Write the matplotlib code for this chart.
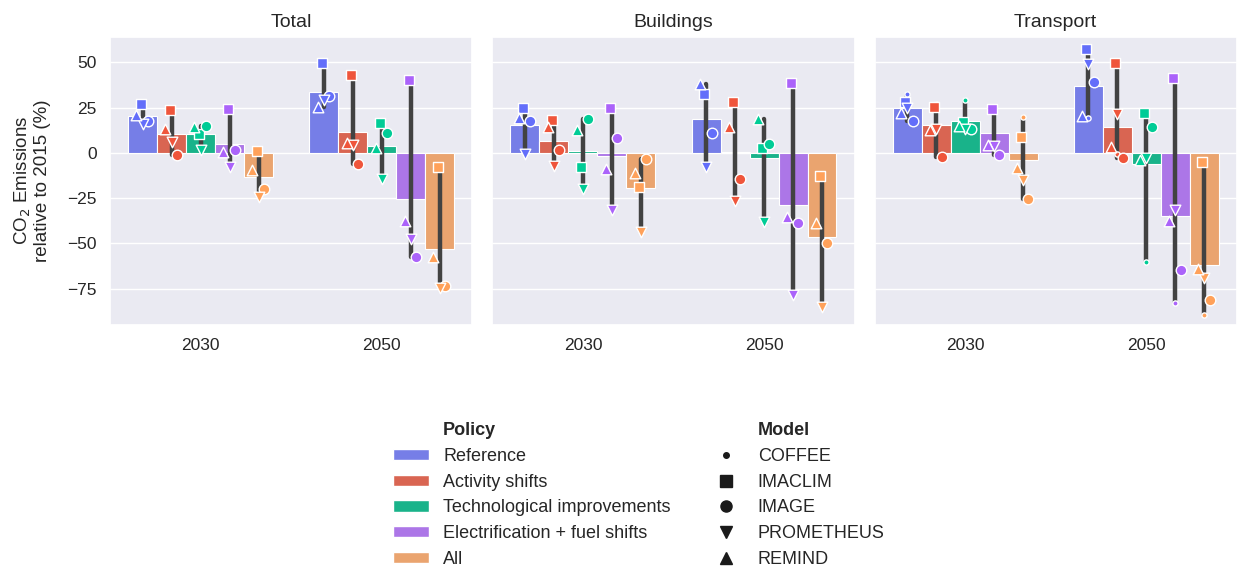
import numpy as np
import pandas as pd
import matplotlib
matplotlib.use('Agg')
import matplotlib.pyplot as plt
from matplotlib.patches import Patch
from matplotlib.lines import Line2D
import seaborn as sns

sns.set_theme(style='darkgrid')
plt.rcParams['font.family'] = ['Liberation Sans', 'DejaVu Sans']

# categories
sectors = ['Total', 'Buildings', 'Transport']
years = ['2030', '2050']
policies = ['Reference', 'Activity shifts', 'Technological improvements',
            'Electrification + fuel shifts', 'All']
models = ['COFFEE', 'IMACLIM', 'IMAGE', 'PROMETHEUS', 'REMIND']
policy_colors = ['#636EFA', '#EF553B', '#00CC96', '#AB63FA', '#FFA15A']
model_markers = ['o', 's', 'o', 'v', '^']

nan = np.nan
# rows = policy, cols = model (COFFEE, IMACLIM, IMAGE, PROMETHEUS, REMIND)
total_2030 = [[nan, 27.2, 17.5, 15.8, 20.8],
              [nan, 23.5, -1.3, 6.0, 12.9],
              [nan, 10.3, 14.7, 1.5, 14.0],
              [nan, 24.4, 1.5, -7.7, 0.5],
              [nan, 1.1, -19.7, -24.3, -9.6]]
total_2050 = [[nan, 49.6, 31.3, 29.0, 25.4],
              [nan, 43.2, -6.3, 4.6, 5.5],
              [nan, 16.5, 11.2, -14.7, 2.4],
              [nan, 40.4, -57.7, -47.6, -37.7],
              [nan, -7.7, -73.3, -74.8, -57.4]]
buildings_2030 = [[nan, 24.8, 17.6, -0.9, 19.5],
                  [nan, 18.4, 1.5, -7.4, 14.0],
                  [nan, -7.7, 18.6, -19.7, 12.5],
                  [nan, 24.8, 8.3, -31.6, -9.0],
                  [nan, -18.8, -3.5, -43.9, -11.4]]
buildings_2050 = [[nan, 32.4, 11.0, -7.7, 38.2],
                  [nan, 27.8, -14.2, -26.7, 14.0],
                  [nan, 2.8, 4.8, -38.0, 18.6],
                  [nan, 38.8, -39.0, -78.5, -35.7],
                  [nan, -12.9, -50.0, -85.0, -39.0]]
transport_2030 = [[32.7, 28.1, 17.5, 24.8, 22.0],
                  [27.2, 25.4, -2.2, 13.4, 12.5],
                  [29.4, 17.1, 13.4, 13.4, 14.7],
                  [24.1, 24.1, -1.3, 3.7, 4.2],
                  [19.9, 8.8, -25.5, -15.0, -8.6]]
transport_2050 = [[19.0, 57.2, 39.3, 48.9, 20.3],
                  [-0.9, 49.4, -2.8, 21.2, 3.3],
                  [-60.5, 22.1, 14.2, -2.8, -4.1],
                  [-83.0, 41.5, -64.6, -31.7, -37.8],
                  [-89.5, -5.2, -81.5, -69.2, -64.2]]

tables = {('Total', '2030'): total_2030, ('Total', '2050'): total_2050,
          ('Buildings', '2030'): buildings_2030, ('Buildings', '2050'): buildings_2050,
          ('Transport', '2030'): transport_2030, ('Transport', '2050'): transport_2050}

rows = []
for (sec, yr), tab in tables.items():
    for p, vals in zip(policies, tab):
        for m, v in zip(models, vals):
            if not np.isnan(v):
                rows.append(dict(sector=sec, year=yr, policy=p, model=m, value=v))
df = pd.DataFrame(rows)

model_shift = {'COFFEE': 0.0, 'IMACLIM': -0.01, 'IMAGE': 0.03,
               'PROMETHEUS': 0.0, 'REMIND': -0.035}
model_size = {'COFFEE': 14, 'IMACLIM': 58, 'IMAGE': 58, 'PROMETHEUS': 58, 'REMIND': 58}

fig, axes = plt.subplots(1, 3, figsize=(12.38, 5.68), dpi=100, sharey=True)
fig.subplots_adjust(left=0.089, right=0.999, top=0.935, bottom=0.428, wspace=0.055)

for ax, sec in zip(axes, sectors):
    sub = df[df.sector == sec]
    sns.barplot(data=sub, x='year', y='value', hue='policy', order=years,
                hue_order=policies, palette=policy_colors, errorbar=('pi', 100),
                err_kws={'color': '.26', 'linewidth': 3.2}, edgecolor='white',
                linewidth=0.8, legend=False, ax=ax)
    for j, p in enumerate(policies):
        for m, mk in zip(models, model_markers):
            pts = sub[(sub.policy == p) & (sub.model == m)]
            if len(pts) == 0:
                continue
            xs = [years.index(y) - 0.32 + 0.16 * j + model_shift[m] for y in pts.year]
            ax.scatter(xs, pts.value, marker=mk, s=model_size[m], color=policy_colors[j],
                       edgecolor='white', linewidth=1, zorder=5)
    ax.set_title(sec, fontsize=14, color='.15', pad=7)
    ax.set_xlabel('')
    ax.set_ylabel('')
    ax.set_xlim(-0.5, 1.5)
    ax.tick_params(labelsize=12.5, colors='.15')

axes[0].set_ylim(-95, 64)
axes[0].set_yticks([-75, -50, -25, 0, 25, 50])
axes[0].set_ylabel('CO$_2$ Emissions\nrelative to 2015 (%)', fontsize=13.5, color='.15',
                   labelpad=12, linespacing=1.1)

handles = [Patch(visible=False)]
labels = ['Policy']
for p, c in zip(policies, policy_colors):
    handles.append(Patch(facecolor=sns.desaturate(c, 0.75), edgecolor='white'))
    labels.append(p)
handles.append(Patch(visible=False))
labels.append('Model')
for m, mk in zip(models, model_markers):
    handles.append(Line2D([], [], linestyle='', marker=mk, color='.1',
                          markersize=4 if m == 'COFFEE' else 8))
    labels.append(m)

leg = fig.legend(handles, labels, ncol=2, loc='lower center', bbox_to_anchor=(0.516, -0.028),
                 frameon=False, fontsize=13, handlelength=2.0, handleheight=0.6,
                 handletextpad=0.78, columnspacing=2.05, labelspacing=0.48)
for t in leg.get_texts():
    if t.get_text() in ('Policy', 'Model'):
        t.set_fontweight('bold')

fig.savefig('out.png', dpi=100)
